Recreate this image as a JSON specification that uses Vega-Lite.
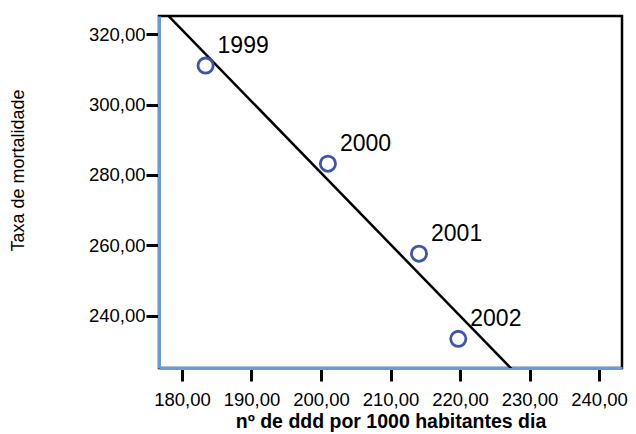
{
  "$schema": "https://vega.github.io/schema/vega-lite/v6.json",
  "width": 463,
  "height": 352,
  "autosize": "none",
  "padding": {"left": 159, "top": 16, "right": 14, "bottom": 66},
  "background": "white",
  "config": {
    "view": {"stroke": "black", "strokeWidth": 2.5},
    "font": "Liberation Sans",
    "axis": {
      "grid": false,
      "domainColor": "#6b9bd1",
      "domainWidth": 3,
      "tickColor": "black",
      "tickWidth": 3,
      "tickSize": 13,
      "labelFont": "Liberation Sans",
      "labelFontSize": 18.5,
      "labelColor": "black",
      "titleColor": "black"
    }
  },
  "data": {
    "values": [
      {"ddd": 183.4, "taxa": 311.1, "ano": "1999"},
      {"ddd": 201.0, "taxa": 283.2, "ano": "2000"},
      {"ddd": 214.1, "taxa": 257.6, "ano": "2001"},
      {"ddd": 219.75, "taxa": 233.4, "ano": "2002"}
    ]
  },
  "layer": [
    {
      "transform": [
        {"regression": "taxa", "on": "ddd", "extent": [176.7, 243.3]}
      ],
      "mark": {"type": "line", "color": "black", "strokeWidth": 2.5, "clip": true},
      "encoding": {
        "x": {"field": "ddd", "type": "quantitative"},
        "y": {"field": "taxa", "type": "quantitative"}
      }
    },
    {
      "mark": {"type": "point", "shape": "circle", "filled": false, "color": "#3f55aa", "strokeWidth": 2.8, "size": 230, "opacity": 1},
      "encoding": {
        "x": {
          "field": "ddd",
          "type": "quantitative",
          "scale": {"domain": [176.7, 243.3], "nice": false, "zero": false},
          "axis": {
            "values": [180, 190, 200, 210, 220, 230, 240],
            "labelExpr": "replace(format(datum.value, '.2f'), '.', ',')",
            "labelPadding": 9,
            "title": "nº de ddd por 1000 habitantes dia",
            "titleFontSize": 19.5,
            "titleFontWeight": "bold",
            "titlePadding": 4
          }
        },
        "y": {
          "field": "taxa",
          "type": "quantitative",
          "scale": {"domain": [225.1, 325.2], "nice": false, "zero": false},
          "axis": {
            "values": [240, 260, 280, 300, 320],
            "labelExpr": "replace(format(datum.value, '.2f'), '.', ',')",
            "labelPadding": 1,
            "title": "Taxa de mortalidade",
            "titleFontSize": 18,
            "titleFontWeight": "normal",
            "titlePadding": 61,
            "titleY": 154
          }
        }
      }
    },
    {
      "mark": {"type": "text", "align": "left", "baseline": "middle", "dx": 12, "dy": -20, "fontSize": 23, "color": "black"},
      "encoding": {
        "x": {"field": "ddd", "type": "quantitative"},
        "y": {"field": "taxa", "type": "quantitative"},
        "text": {"field": "ano"}
      }
    }
  ]
}
